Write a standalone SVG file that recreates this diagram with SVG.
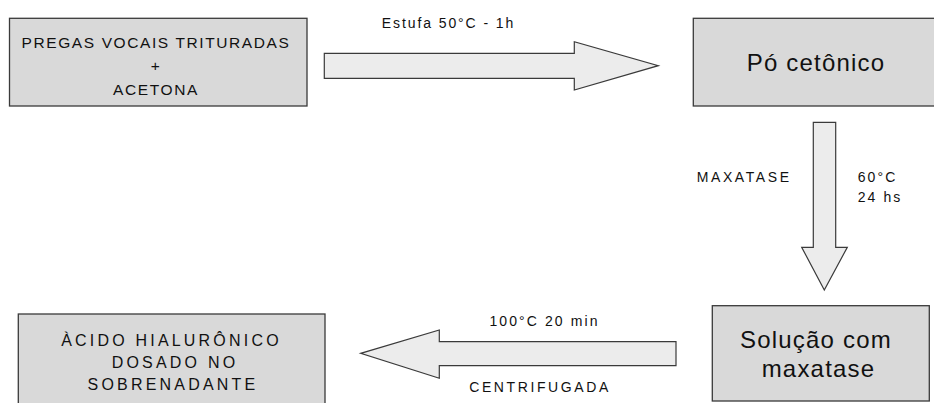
<svg xmlns="http://www.w3.org/2000/svg" width="934" height="403" viewBox="0 0 934 403">
  <style>
    .box { fill: #d9d9d9; stroke: #3a3a3a; stroke-width: 1.3; }
    .arrow { fill: #ececec; stroke: #3a3a3a; stroke-width: 1.2; stroke-linejoin: miter; }
    text { font-family: "Liberation Sans", Arial, sans-serif; fill: #111; }
    .small { font-size: 14px; letter-spacing: 2.1px; }
    .mid { font-size: 15.5px; letter-spacing: 1.6px; text-anchor: middle; }
    .lower { font-size: 16px; letter-spacing: 3.2px; text-anchor: middle; }
    .big { font-size: 24px; letter-spacing: 1.2px; text-anchor: middle; }
    .c { text-anchor: middle; }
  </style>

  <g id="node-pregas">
    <rect class="box" x="9.5" y="18.3" width="297.5" height="87.7"/>
    <text class="mid" x="156" y="47.7">PREGAS VOCAIS TRITURADAS</text>
    <text class="mid" x="156" y="71">+</text>
    <text class="mid" x="156" y="95">ACETONA</text>
  </g>

  <g id="node-po">
    <rect class="box" x="693.3" y="18.3" width="250" height="87.7"/>
    <text class="big" x="816" y="71">Pó cetônico</text>
  </g>

  <g id="node-solucao">
    <rect class="box" x="712.3" y="305.7" width="217" height="95.3"/>
    <text class="big" x="816" y="348.3">Solução com</text>
    <text class="big" x="818.5" y="377.3">maxatase</text>
  </g>

  <g id="node-acido">
    <rect class="box" x="18.3" y="314" width="306.7" height="100"/>
    <text class="lower" x="171.5" y="345.7">ÀCIDO HIALURÔNICO</text>
    <text class="lower" x="175" y="367.7">DOSADO NO</text>
    <text class="lower" x="173" y="390">SOBRENADANTE</text>
  </g>

  <g id="connectors">
    <polygon class="arrow" points="324.3,53.3 574.3,53.3 574.3,41.7 658.3,65.7 574.3,90 574.3,78.3 324.3,78.3"/>
    <text class="small c" x="448.5" y="28.3" style="letter-spacing:1.9px">Estufa 50°C - 1h</text>

    <polygon class="arrow" points="813.3,122.3 835.7,122.3 835.7,247.3 847.3,247.3 824.3,290 801.7,247.3 813.3,247.3"/>
    <text class="small" x="696.7" y="181.7" style="letter-spacing:2.6px">MAXATASE</text>
    <text class="small" x="857.7" y="181.7">60°C</text>
    <text class="small" x="857.7" y="201.7">24 hs</text>

    <polygon class="arrow" points="676,341.7 439.3,341.7 439.3,330 360.7,353.3 439.3,378.3 439.3,365.7 676,365.7"/>
    <text class="small c" x="544.5" y="325.7">100°C 20 min</text>
    <text class="small c" x="540" y="391.7" style="letter-spacing:2.6px">CENTRIFUGADA</text>
  </g>
</svg>
